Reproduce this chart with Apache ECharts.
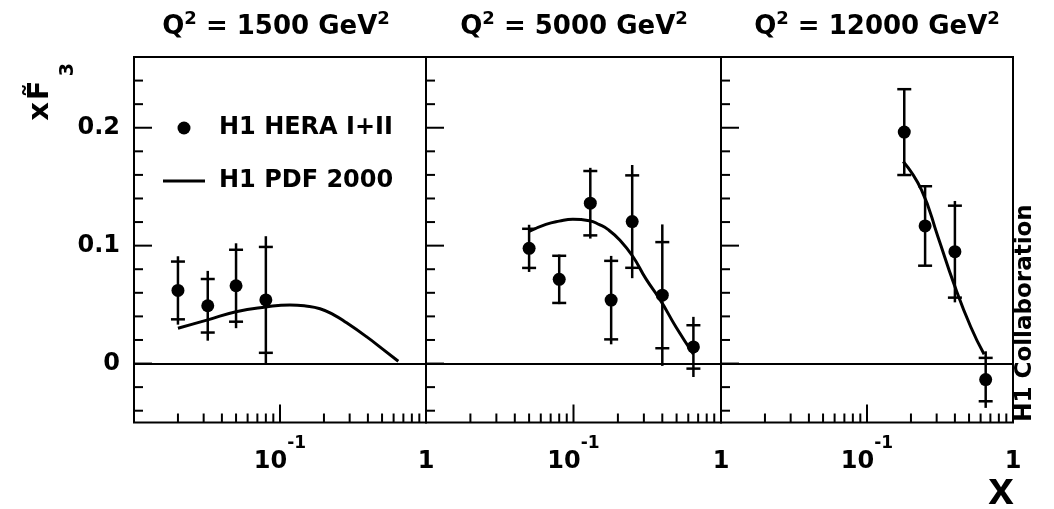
<!DOCTYPE html>
<html><head><meta charset="utf-8">
<script src="https://cdn.jsdelivr.net/npm/echarts@6/dist/echarts.min.js"></script>
<style>html,body{margin:0;padding:0;background:#fff}#c{width:1054px;height:509px}</style>
</head><body><div id="c"></div>
<script>
// ---- data ----
const panelQ2 = ['1500', '5000', '12000'];

const x1500 = [0.02, 0.032, 0.05, 0.08];
const v1500 = [0.062, 0.049, 0.066, 0.054];
const stat1500 = [0.0245, 0.0227, 0.0305, 0.0449];
const tot1500 = [0.029, 0.0296, 0.036, 0.054];
const curveX1500 = [0.02, 0.032, 0.05, 0.08, 0.117, 0.15, 0.188, 0.232, 0.286, 0.393, 0.5, 0.646];
const curveY1500 = [0.030, 0.037, 0.044, 0.048, 0.0497, 0.0488, 0.0465, 0.0415, 0.0345, 0.0226, 0.0127, 0.002];

const x5000 = [0.05, 0.08, 0.13, 0.18, 0.25, 0.4, 0.65];
const v5000 = [0.0977, 0.0714, 0.136, 0.0538, 0.1204, 0.058, 0.0141];
const stat5000 = [0.0166, 0.020, 0.0273, 0.0333, 0.0392, 0.045, 0.0184];
const tot5000 = [0.020, 0.021, 0.030, 0.0375, 0.048, 0.060, 0.0255];
const curveX5000 = [0.05, 0.065, 0.08, 0.099, 0.128, 0.15, 0.171, 0.205, 0.252, 0.31, 0.388, 0.495, 0.65];
const curveY5000 = [0.112, 0.118, 0.1208, 0.1224, 0.1212, 0.1178, 0.1138, 0.105, 0.091, 0.0718, 0.0538, 0.031, 0.008];

const x12000 = [0.18, 0.25, 0.4, 0.65];
const v12000 = [0.1963, 0.1167, 0.0949, -0.0136];
const stat12000 = [0.0364, 0.0337, 0.039, 0.0184];
const tot12000 = [0.0364, 0.0337, 0.043, 0.024];
const curveX12000 = [0.177, 0.236, 0.306, 0.393, 0.514, 0.634];
const curveY12000 = [0.1714, 0.1473, 0.1076, 0.068, 0.031, 0.0079];

const X_MIN = 0.01, X_MAX = 1, Y_MIN = -0.05, Y_MAX = 0.26;
const xMinorTicks = [0.02,0.03,0.04,0.05,0.06,0.07,0.08,0.09,0.2,0.3,0.4,0.5,0.6,0.7,0.8,0.9];
const xMajorTicks = [0.1];
const yMinorTicks = [-0.04,-0.02,0.02,0.04,0.06,0.08,0.12,0.14,0.16,0.18,0.22,0.24];
const yMajorTicks = [0, 0.1, 0.2];
const yLabelValues = [0, 0.1, 0.2];

// ---- build ----
const panels = [
  {x: x1500, v: v1500, s: stat1500, t: tot1500, cx: curveX1500, cy: curveY1500},
  {x: x5000, v: v5000, s: stat5000, t: tot5000, cx: curveX5000, cy: curveY5000},
  {x: x12000, v: v12000, s: stat12000, t: tot12000, cx: curveX12000, cy: curveY12000}
];
const gridPos = [{left: 134, width: 292}, {left: 426, width: 295}, {left: 721, width: 292}];
const FONT = 'DejaVu Sans';

function errRender(params, api) {
  const x = api.value(0), v = api.value(1), st = api.value(2), tt = api.value(3);
  const top = api.coord([x, v + tt]), bot = api.coord([x, v - tt]);
  const sTop = api.coord([x, v + st]), sBot = api.coord([x, v - st]);
  const hw = 7;
  const mk = () => ({stroke: '#000', lineWidth: 2.5});
  return {type: 'group', children: [
    {type: 'line', shape: {x1: top[0], y1: top[1], x2: bot[0], y2: bot[1]}, style: mk()},
    {type: 'line', shape: {x1: sTop[0] - hw, y1: sTop[1], x2: sTop[0] + hw, y2: sTop[1]}, style: mk()},
    {type: 'line', shape: {x1: sBot[0] - hw, y1: sBot[1], x2: sBot[0] + hw, y2: sBot[1]}, style: mk()}
  ]};
}
function xTickRender(params, api) {
  const p = api.coord([api.value(0), Y_MIN]);
  const len = api.value(2) ? 18 : 9;
  return {type: 'line', shape: {x1: p[0], y1: p[1], x2: p[0], y2: p[1] - len}, style: {stroke: '#000', lineWidth: 2}};
}
function yTickRender(params, api) {
  const p = api.coord([X_MIN, api.value(1)]);
  const len = api.value(2) ? 18 : 9;
  return {type: 'line', shape: {x1: p[0], y1: p[1], x2: p[0] + len, y2: p[1]}, style: {stroke: '#000', lineWidth: 2}};
}
const xTickData = xMinorTicks.map(v => [v, Y_MIN, 0]).concat(xMajorTicks.map(v => [v, Y_MIN, 1]));
const yTickData = yMinorTicks.map(v => [X_MIN, v, 0]).concat(yMajorTicks.map(v => [X_MIN, v, 1]));

const grids = [], xAxes = [], yAxes = [], series = [];
panels.forEach((p, i) => {
  grids.push({left: gridPos[i].left, width: gridPos[i].width, top: 57, height: 365.5,
    show: true, borderColor: '#000', borderWidth: 2, backgroundColor: 'transparent'});
  xAxes.push({type: 'log', logBase: 10, gridIndex: i, min: X_MIN, max: X_MAX,
    axisLine: {show: false}, axisTick: {show: false}, splitLine: {show: false},
    axisLabel: {margin: 12.5, formatter: function (val) {
      const e = Math.round(Math.log10(val));
      if (e === 0) return '{c|1}';
      if (e === -1) return '{a|10}{b|-1}';
      return '';
    }, rich: {
      a: {fontFamily: FONT, fontWeight: 'bold', fontSize: 24, lineHeight: 53, verticalAlign: 'middle', color: '#000'},
      b: {fontFamily: FONT, fontWeight: 'bold', fontSize: 17, lineHeight: 17, verticalAlign: 'top', color: '#000'},
      c: {fontFamily: FONT, fontWeight: 'bold', fontSize: 24, lineHeight: 53, verticalAlign: 'middle', color: '#000'}
    }}});
  yAxes.push({type: 'value', gridIndex: i, min: Y_MIN, max: Y_MAX, interval: 0.05,
    axisLine: {show: false}, axisTick: {show: false}, splitLine: {show: false},
    axisLabel: {show: i === 0, margin: 14, fontFamily: FONT, fontWeight: 'bold', fontSize: 24, color: '#000',
      formatter: function (val) {
        const r = Math.round(val * 100) / 100;
        for (const l of yLabelValues) if (Math.abs(l - r) < 1e-9) return String(l);
        return '';
      }}});
  series.push({type: 'line', name: 'H1 PDF 2000', xAxisIndex: i, yAxisIndex: i, smooth: 0.5,
    symbol: 'none', data: p.cx.map((x, k) => [x, p.cy[k]]),
    lineStyle: {color: '#000', width: 3}, itemStyle: {color: '#000'}, z: 2,
    markLine: {silent: true, symbol: ['none', 'none'], label: {show: false},
      lineStyle: {color: '#000', width: 2, type: 'solid'}, data: [{yAxis: 0}], animation: false}});
  series.push({type: 'custom', name: 'err' + i, xAxisIndex: i, yAxisIndex: i, renderItem: errRender,
    data: p.x.map((x, k) => [x, p.v[k], p.s[k], p.t[k]]), z: 3});
  series.push({type: 'scatter', name: 'H1 HERA I+II', xAxisIndex: i, yAxisIndex: i, symbol: 'circle',
    symbolSize: 13, itemStyle: {color: '#000', opacity: 1}, data: p.x.map((x, k) => [x, p.v[k]]), z: 4});
  series.push({type: 'custom', name: 'xt' + i, xAxisIndex: i, yAxisIndex: i, renderItem: xTickRender, data: xTickData, z: 5, silent: true});
  series.push({type: 'custom', name: 'yt' + i, xAxisIndex: i, yAxisIndex: i, renderItem: yTickRender, data: yTickData, z: 5, silent: true});
});

const titleCenters = [276, 574, 877];
const graphics = panelQ2.map((q, i) => ({
  type: 'text', x: titleCenters[i], y: 27.3,
  style: {text: '{m|Q}{s|2}{m| = ' + q + ' GeV}{s|2}', align: 'center', verticalAlign: 'middle',
    textAlign: 'center', textVerticalAlign: 'middle',
    rich: {
      m: {fontFamily: FONT, fontWeight: 'bold', fontSize: 26, lineHeight: 26, verticalAlign: 'middle', fill: '#000', color: '#000'},
      s: {fontFamily: FONT, fontWeight: 'bold', fontSize: 18, lineHeight: 18, verticalAlign: 'middle', fill: '#000', color: '#000', padding: [0, 0, 15, 0]}
    }}
}));
graphics.push({
  type: 'text', x: 26, y: 92, rotation: Math.PI / 2,
  style: {text: '{x|x}{F|F\u0303}{s|3}', align: 'center', verticalAlign: 'top',
    textAlign: 'center', textVerticalAlign: 'top',
    rich: {
      x: {fontFamily: FONT, fontWeight: 'bold', fontSize: 29, lineHeight: 29, verticalAlign: 'top', fill: '#000', color: '#000'},
      F: {fontFamily: FONT, fontWeight: 'bold', fontSize: 29, lineHeight: 29, verticalAlign: 'top', fill: '#000', color: '#000', padding: [0, 4, 0, 2]},
      s: {fontFamily: FONT, fontWeight: 'bold', fontSize: 19, lineHeight: 85, verticalAlign: 'middle', fill: '#000', color: '#000'}
    }}
});
graphics.push({
  type: 'text', x: 1001, y: 491,
  style: {text: 'x', font: 'bold 46px "Liberation Sans"', fill: '#000', align: 'center', verticalAlign: 'middle',
    textAlign: 'center', textVerticalAlign: 'middle'}
});
graphics.push({
  type: 'text', x: 1025, y: 313, rotation: Math.PI / 2,
  style: {text: 'H1 Collaboration', font: 'bold 23px "DejaVu Sans"', fill: '#000', align: 'center', verticalAlign: 'middle',
    textAlign: 'center', textVerticalAlign: 'middle'}
});

const chart = echarts.init(document.getElementById('c'), null, {renderer: 'canvas'});
chart.setOption({
  backgroundColor: '#fff',
  animation: false,
  grid: grids, xAxis: xAxes, yAxis: yAxes, series: series,
  legend: {
    left: 163, top: 116, orient: 'vertical', padding: 0, itemGap: 29, itemWidth: 42, itemHeight: 13,
    selectedMode: false,
    data: [{name: 'H1 HERA I+II', icon: 'circle'}, {name: 'H1 PDF 2000', icon: 'path://M0,0 L42,0 L42,3 L0,3 Z'}],
    textStyle: {fontFamily: FONT, fontWeight: 'bold', fontSize: 24, lineHeight: 24, color: '#000', padding: [0, 0, 0, 9]}
  },
  graphic: graphics
});
</script>
</body></html>
